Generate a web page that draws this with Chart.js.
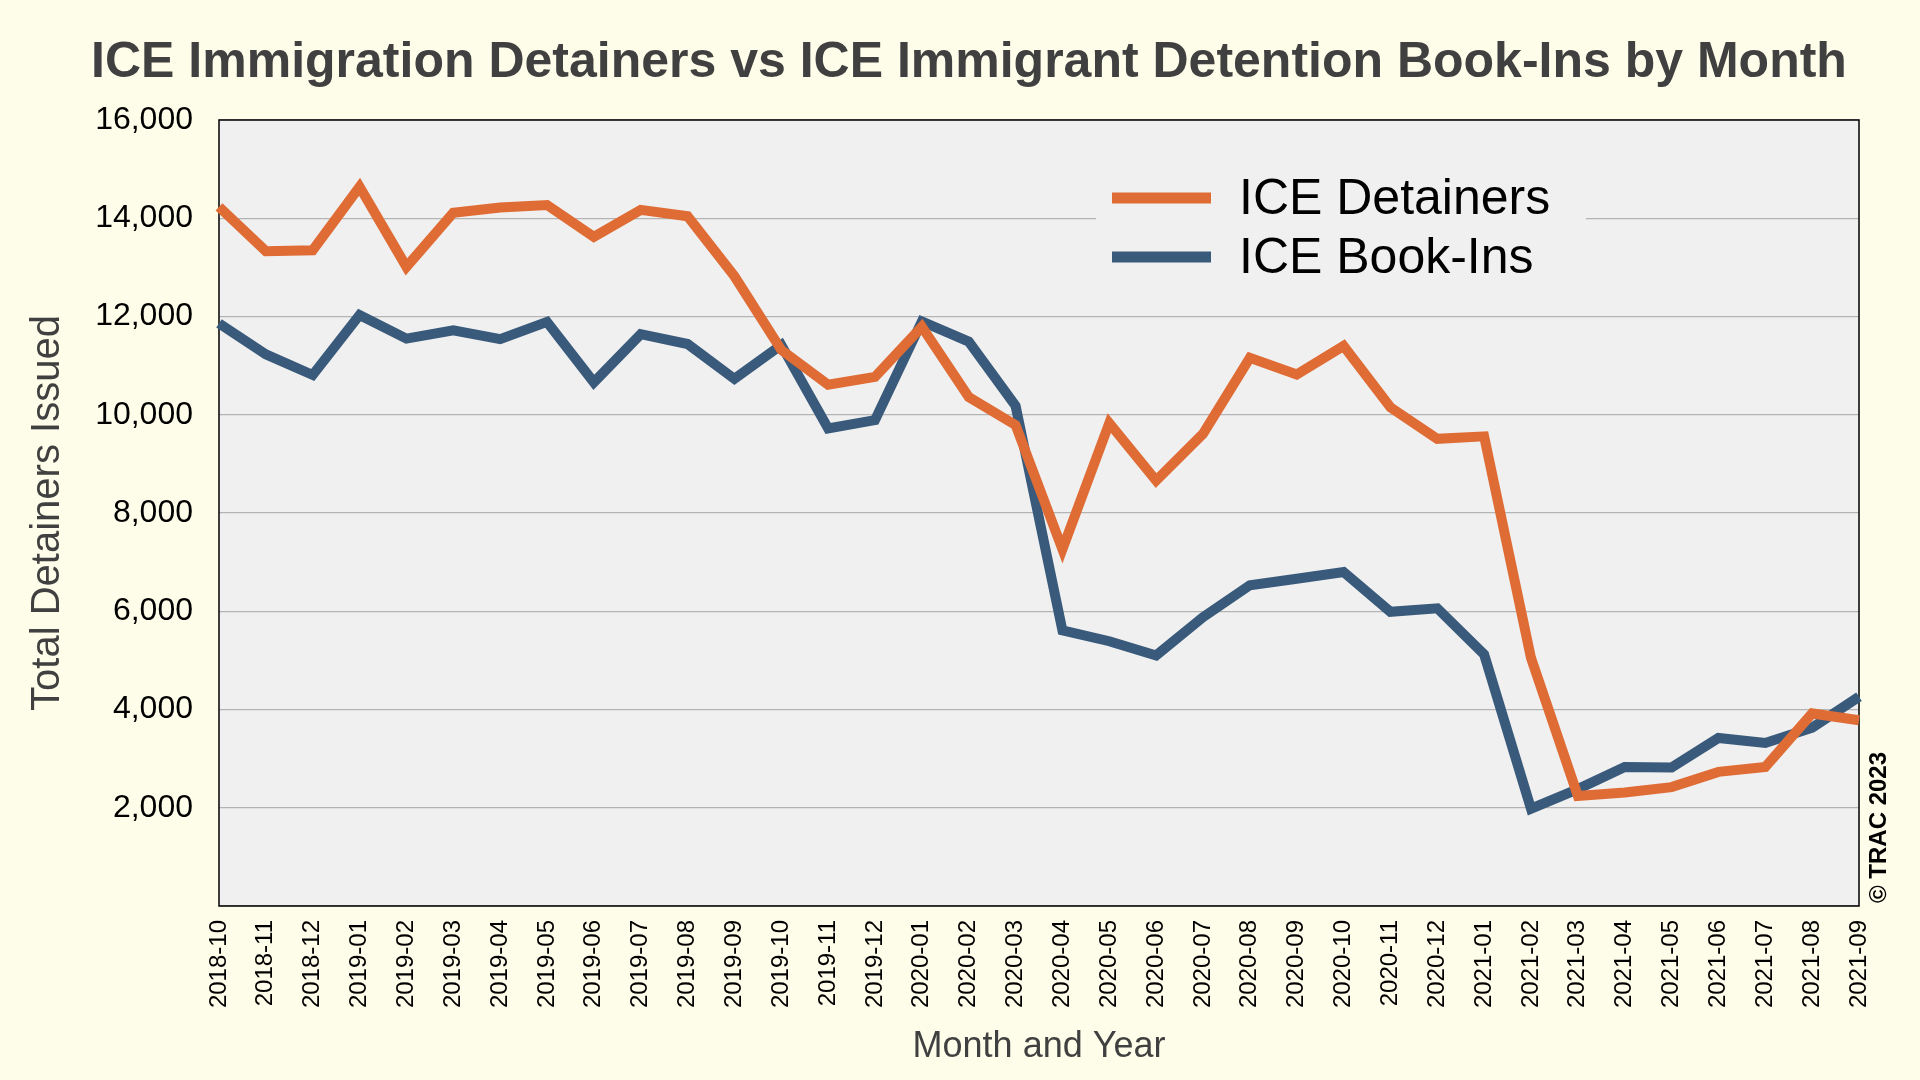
<!DOCTYPE html>
<html>
<head>
<meta charset="utf-8">
<script src="https://cdn.jsdelivr.net/npm/chart.js@4/dist/chart.umd.min.js"></script>
<style>
  html, body { margin: 0; padding: 0; background: #FEFDEA; }
  #wrap { width: 1920px; height: 1080px; }
</style>
</head>
<body>
<div id="wrap"><canvas id="c" width="1920" height="1080"></canvas></div>
<script>
const months = ["2018-10","2018-11","2018-12","2019-01","2019-02","2019-03","2019-04","2019-05","2019-06","2019-07","2019-08","2019-09","2019-10","2019-11","2019-12","2020-01","2020-02","2020-03","2020-04","2020-05","2020-06","2020-07","2020-08","2020-09","2020-10","2020-11","2020-12","2021-01","2021-02","2021-03","2021-04","2021-05","2021-06","2021-07","2021-08","2021-09"];
const iceDetainers = [14230,13330,13350,14640,13010,14110,14220,14270,13620,14170,14040,12820,11320,10610,10770,11790,10360,9790,7260,9830,8660,9610,11160,10820,11400,10150,9510,9560,5050,2240,2310,2420,2730,2830,3920,3780];
const iceBookIns = [11860,11230,10810,12030,11550,11720,11540,11890,10660,11640,11440,10730,11420,9720,9890,11900,11490,10180,5610,5390,5100,5880,6530,6660,6800,5990,6060,5120,1980,2380,2830,2820,3420,3320,3630,4260];
const yTicks = [2000,4000,6000,8000,10000,12000,14000,16000];
const seriesNames = ["ICE Detainers","ICE Book-Ins"];
const titleText = "ICE Immigration Detainers vs ICE Immigrant Detention Book-Ins by Month";
const xTitle = "Month and Year";
const yTitle = "Total Detainers Issued";
const credit = "\u00A9 TRAC 2023";

const FONT = "'Liberation Sans', Arial, Helvetica, sans-serif";
const ORANGE = "#E06C35";
const BLUE = "#395A7B";

const decorPlugin = {
  id: 'decor',
  beforeDraw(chart) {
    const {ctx, chartArea: a} = chart;
    ctx.save();
    ctx.fillStyle = '#FEFDEA';
    ctx.fillRect(0, 0, chart.width, chart.height);
    ctx.fillStyle = '#F0F0F0';
    ctx.fillRect(a.left, a.top, a.right - a.left, a.bottom - a.top);
    ctx.restore();
  },
  beforeDatasetsDraw(chart) {
    const {ctx, chartArea: a} = chart;
    ctx.save();
    ctx.strokeStyle = '#000';
    ctx.lineWidth = 1.5;
    ctx.strokeRect(a.left, a.top, a.right - a.left, a.bottom - a.top);
    ctx.fillStyle = '#F0F0F0';
    ctx.fillRect(1096, 160, 490, 130);
    const ds = chart.data.datasets;
    const rows = [198, 257];
    ds.forEach((d, i) => {
      ctx.fillStyle = d.borderColor;
      ctx.fillRect(1112, rows[i] - 5.5, 99, 11);
      ctx.fillStyle = '#000';
      ctx.font = '50px ' + FONT;
      ctx.textAlign = 'left';
      ctx.textBaseline = 'middle';
      ctx.fillText(d.label, 1239, rows[i] + 2);
    });
    ctx.restore();
  },
  afterDraw(chart) {
    const {ctx} = chart;
    ctx.save();
    ctx.translate(1879, 903);
    ctx.rotate(-Math.PI / 2);
    ctx.fillStyle = '#000';
    ctx.font = 'bold 24px ' + FONT;
    ctx.textAlign = 'left';
    ctx.textBaseline = 'middle';
    ctx.fillText(credit, 0, 0);
    ctx.restore();
  }
};

new Chart(document.getElementById('c'), {
  type: 'line',
  data: {
    labels: months,
    datasets: [
      { label: seriesNames[0], data: iceDetainers, borderColor: ORANGE, backgroundColor: ORANGE,
        borderWidth: 10, pointRadius: 0, tension: 0, borderJoinStyle: 'miter', borderCapStyle: 'butt', fill: false },
      { label: seriesNames[1], data: iceBookIns, borderColor: BLUE, backgroundColor: BLUE,
        borderWidth: 10, pointRadius: 0, tension: 0, borderJoinStyle: 'miter', borderCapStyle: 'butt', fill: false }
    ]
  },
  options: {
    responsive: false,
    animation: false,
    layout: { padding: { left: 18, right: 0, top: 0, bottom: 0 } },
    plugins: {
      legend: { display: false },
      tooltip: { enabled: false },
      title: {
        display: true,
        text: titleText,
        color: '#404040',
        font: { family: FONT, size: 50, weight: 'bold' },
        padding: { top: 33, bottom: 27 }
      }
    },
    scales: {
      x: {
        type: 'category',
        offset: false,
        grid: { display: false, drawTicks: false },
        border: { display: false },
        ticks: {
          autoSkip: false, maxRotation: 90, minRotation: 90,
          color: '#000', padding: 14,
          font: { family: FONT, size: 24 }
        },
        title: {
          display: true, text: xTitle, color: '#404040',
          font: { family: FONT, size: 36 },
          padding: { top: 0, bottom: 11 }
        },
        afterFit(s) { s.height = 174; }
      },
      y: {
        position: 'left',
        min: 0, max: 16000,
        afterBuildTicks(s) { s.ticks = [0].concat(yTicks).map(v => ({ value: v })); },
        grid: { color: '#B4B4B4', lineWidth: 1.2, drawTicks: false },
        border: { display: false },
        ticks: {
          color: '#000', padding: 26,
          font: { family: FONT, size: 32 },
          callback: (v) => v === 0 ? '' : v.toLocaleString('en-US')
        },
        title: {
          display: true, text: yTitle, color: '#404040',
          font: { family: FONT, size: 40 },
          padding: { top: 6, bottom: 0 }
        },
        afterFit(s) { s.width = 201; }
      },
      yRight: {
        type: 'linear',
        position: 'right',
        display: true,
        min: 0, max: 16000,
        grid: { display: false, drawTicks: false },
        border: { display: false },
        ticks: { display: false },
        afterFit(s) { s.width = 61; }
      }
    }
  },
  plugins: [decorPlugin]
});
</script>
</body>
</html>
